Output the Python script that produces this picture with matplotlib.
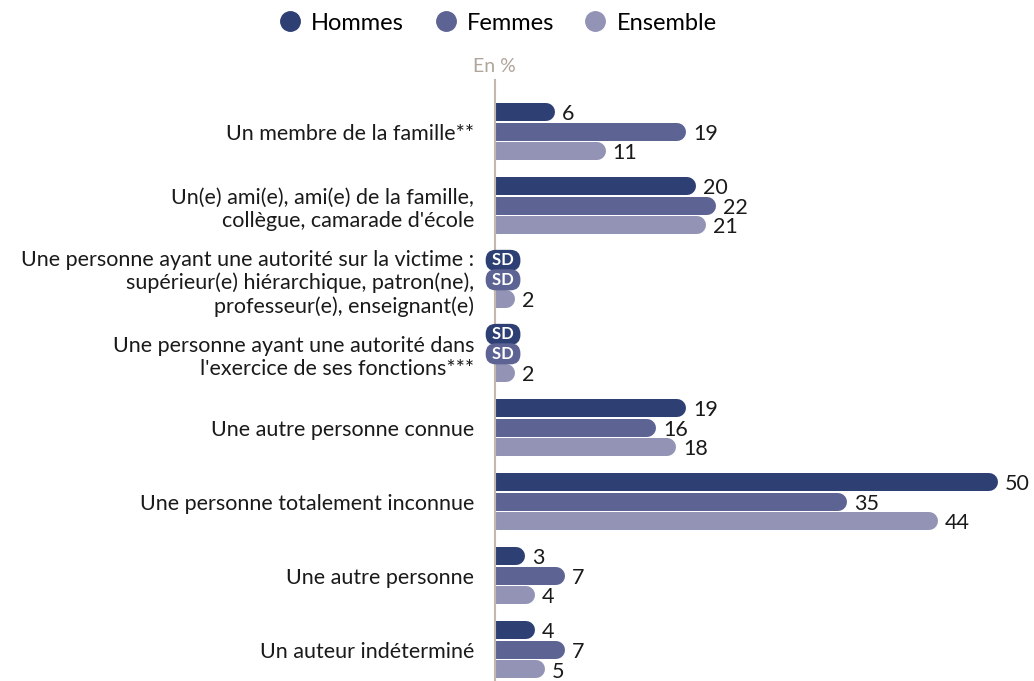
import numpy as np
import matplotlib.pyplot as plt
from matplotlib.lines import Line2D

plt.rcParams['font.family'] = ['Lato', 'DejaVu Sans']

categories = [
    "Un membre de la famille**",
    "Un(e) ami(e), ami(e) de la famille,\ncollègue, camarade d'école",
    "Une personne ayant une autorité sur la victime :\nsupérieur(e) hiérarchique, patron(ne),\nprofesseur(e), enseignant(e)",
    "Une personne ayant une autorité dans\nl'exercice de ses fonctions***",
    "Une autre personne connue",
    "Une personne totalement inconnue",
    "Une autre personne",
    "Un auteur indéterminé",
]
# None = SD (secret statistique)
hommes = [6, 20, None, None, 19, 50, 3, 4]
femmes = [19, 22, None, None, 16, 35, 7, 7]
ensemble = [11, 21, 2, 2, 18, 44, 4, 5]

series = {'Hommes': hommes, 'Femmes': femmes, 'Ensemble': ensemble}
colors = ['#2e3f74', '#5d6494', '#9293b5']

W, H = 1034, 681
fig = plt.figure(figsize=(W / 100, H / 100), dpi=100)
ax = fig.add_axes([495 / W, 0, (1030 - 495) / W, 1 - 80 / H])

xmax = (1030 - 495) / 10.06
ax.set_xlim(0, xmax)
ax.set_ylim(7.42, -0.70)

px_per_unit = 10.06
bar_px = 18
cap = (bar_px / 2) / px_per_unit
offset = 19.5 / 74
lw_pt = bar_px * 72 / 100

y = np.arange(len(categories))
for i, (name, values) in enumerate(series.items()):
    for j, v in enumerate(values):
        yy = y[j] + (i - 1) * offset
        if v is None:
            ax.text(0.8, yy, ' SD ', ha='center', va='center', color='white',
                    fontsize=12, fontweight='bold', clip_on=False,
                    bbox=dict(boxstyle='round,pad=0.15,rounding_size=0.6',
                              fc=colors[i], ec='none'))
            continue
        ax.plot([0, max(v - cap, 0.01)], [yy, yy], color=colors[i], lw=lw_pt,
                solid_capstyle='round')
        ax.annotate(str(v), (v, yy), xytext=(5, -1.5), textcoords='offset points',
                    ha='left', va='center', fontsize=15.5, color='#1a1a1a',
                    annotation_clip=False)

ax.set_yticks(y)
ax.set_yticklabels(categories, fontsize=15.5, color='#1a1a1a', linespacing=1.2)
ax.tick_params(axis='y', length=0, pad=15)
ax.set_xticks([])
for s in ['top', 'right', 'bottom']:
    ax.spines[s].set_visible(False)
ax.spines['left'].set_color('#c4b8ad')
ax.spines['left'].set_linewidth(1.5)
ax.patch.set_alpha(0)

fig.text(494 / W, 1 - 67 / H, 'En %', ha='center', va='center', fontsize=14,
         color='#b0a59b')

handles = [Line2D([0], [0], marker='o', ls='', markersize=14, color=c) for c in colors]
fig.legend(handles, list(series.keys()), loc='center', bbox_to_anchor=(494 / W, 1 - 23 / H),
           ncol=3, frameon=False, handletextpad=0.1, columnspacing=0.95,
           handlelength=1.6, prop={'size': 17})

fig.savefig('out.png', dpi=100)
